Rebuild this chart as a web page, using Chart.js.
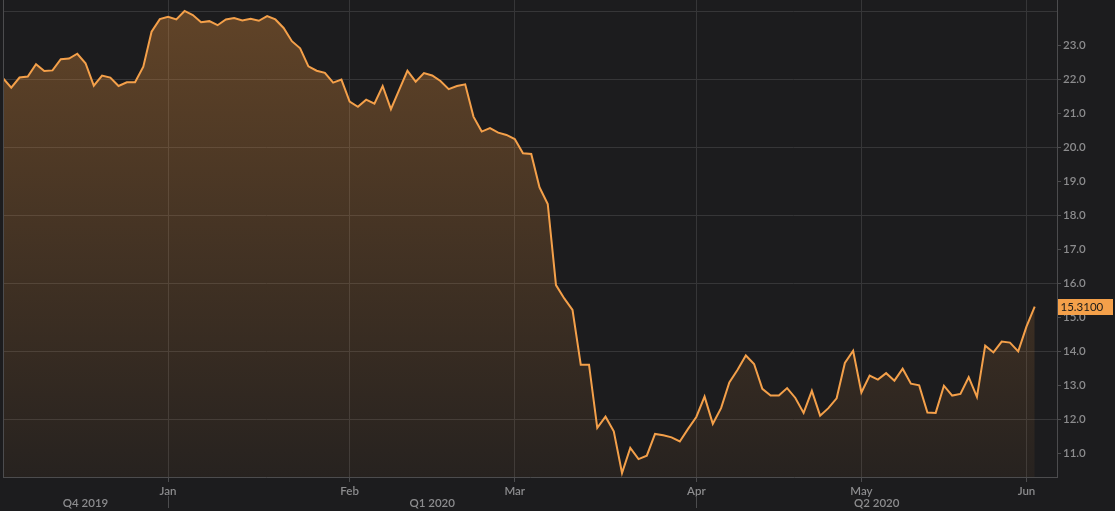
<!DOCTYPE html>
<html>
<head>
<meta charset="utf-8">
<script src="https://cdn.jsdelivr.net/npm/chart.js@4"></script>
<style>
  html, body { margin: 0; padding: 0; background: #1c1c1e; }
  #wrap { width: 1115px; height: 511px; position: relative; }
</style>
</head>
<body>
<div id="wrap"><canvas id="chart" width="1115" height="511"></canvas></div>
<script>
// --- data (one value per trading day) ---
const values = [
  22.03, 21.75, 22.05, 22.08, 22.44, 22.24, 22.26, 22.59, 22.61, 22.75,
  22.47, 21.81, 22.11, 22.05, 21.80, 21.91, 21.91, 22.37, 23.40, 23.77,
  23.84, 23.76, 24.01, 23.89, 23.68, 23.71, 23.59, 23.76, 23.80, 23.73,
  23.78, 23.72, 23.86, 23.76, 23.51, 23.12, 22.91, 22.38, 22.25, 22.19,
  21.90, 21.99, 21.34, 21.19, 21.40, 21.28, 21.80, 21.12, 21.69, 22.25,
  21.93, 22.18, 22.11, 21.95, 21.71, 21.80, 21.85, 20.90, 20.46, 20.56,
  20.43, 20.36, 20.24, 19.82, 19.80, 18.82, 18.33, 15.94, 15.55, 15.21,
  13.60, 13.60, 11.74, 12.07, 11.64, 10.41, 11.15, 10.82, 10.92, 11.56,
  11.52, 11.46, 11.34, 11.71, 12.06, 12.66, 11.86, 12.32, 13.08, 13.45,
  13.87, 13.62, 12.89, 12.69, 12.69, 12.91, 12.62, 12.18, 12.83, 12.10,
  12.32, 12.61, 13.65, 14.01, 12.78, 13.28, 13.16, 13.35, 13.13, 13.48,
  13.04, 12.99, 12.19, 12.18, 12.98, 12.69, 12.74, 13.23, 12.65, 14.16,
  13.96, 14.28, 14.25, 13.99, 14.72, 15.31
];

const monthTickIdx = [20, 42, 62, 84, 104, 124];
const monthLabels = ['Jan', 'Feb', 'Mar', 'Apr', 'May', 'Jun'];
const quarterLabels = ['Q4 2019', 'Q1 2020', 'Q2 2020'];
const quarterStartIdx = [null, 20, 84];   // null: quarter starts before the visible range
const yTickValues = [11, 12, 13, 14, 15, 16, 17, 18, 19, 20, 21, 22, 23, 24];
const lastPriceLabel = '15.3100';

// --- colours ---
const BG = '#1c1c1e';
const GRID = '#363638';
const AXIS = '#4c4c4e';
const TEXT = '#8c8c8e';
const ORANGE = '#f4a04a';
const FONT = 'Lato, "Open Sans", sans-serif';

const extrasPlugin = {
  id: 'extras',
  beforeDraw(chart) {
    const c = chart.ctx;
    c.save();
    c.fillStyle = BG;
    c.fillRect(0, 0, chart.width, chart.height);
    c.restore();
  },
  afterDraw(chart) {
    const c = chart.ctx;
    const xs = chart.scales.x, ys = chart.scales.y;
    const area = chart.chartArea;
    c.save();

    // left frame line
    c.strokeStyle = AXIS;
    c.lineWidth = 1;
    c.beginPath();
    c.moveTo(Math.round(area.left) + 0.5, area.top);
    c.lineTo(Math.round(area.left) + 0.5, area.bottom);
    c.stroke();

    // long quarter separator ticks
    quarterStartIdx.forEach(idx => {
      if (idx === null) return;
      const px = Math.round(xs.getPixelForValue(idx)) + 0.5;
      c.beginPath();
      c.moveTo(px, area.bottom + 19);
      c.lineTo(px, area.bottom + 31);
      c.stroke();
    });

    // quarter labels, centred on the visible part of each quarter
    c.fillStyle = TEXT;
    c.font = '600 11.5px ' + FONT;
    c.textAlign = 'center';
    c.textBaseline = 'middle';
    quarterLabels.forEach((lab, i) => {
      const a = quarterStartIdx[i] === null ? xs.min : quarterStartIdx[i];
      const b = i + 1 < quarterStartIdx.length ? quarterStartIdx[i + 1] : xs.max;
      c.fillText(lab, xs.getPixelForValue((a + b) / 2), area.bottom + 26);
    });

    // last price tag
    const last = values[values.length - 1];
    const py = ys.getPixelForValue(last);
    c.fillStyle = ORANGE;
    c.fillRect(area.right + 1, Math.round(py) - 8, 55, 16);
    c.fillStyle = '#1a1a1a';
    c.textAlign = 'left';
    c.font = '11.5px ' + FONT;
    c.fillText(lastPriceLabel, area.right + 3.5, py + 0.5);
    c.restore();
  }
};

const ctx = document.getElementById('chart').getContext('2d');

new Chart(ctx, {
  type: 'line',
  data: {
    datasets: [{
      data: values.map((v, i) => ({ x: i, y: v })),
      borderColor: ORANGE,
      borderWidth: 2,
      tension: 0,
      pointRadius: 0,
      fill: 'start',
      backgroundColor: (context) => {
        const area = context.chart.chartArea;
        if (!area) return 'rgba(244,160,74,0.2)';
        const g = context.chart.ctx.createLinearGradient(0, area.top, 0, area.bottom);
        g.addColorStop(0, 'rgba(240,150,60,0.33)');
        g.addColorStop(1, 'rgba(240,150,60,0.05)');
        return g;
      }
    }]
  },
  options: {
    responsive: false,
    animation: false,
    layout: { padding: { left: 3, top: 0, right: 0, bottom: 0 } },
    plugins: { legend: { display: false }, tooltip: { enabled: false } },
    scales: {
      x: {
        type: 'linear',
        min: 0,
        max: 127.7,
        afterBuildTicks: (scale) => {
          scale.ticks = monthTickIdx.map(v => ({ value: v }));
        },
        afterFit: (scale) => {
          scale.height = 34;
          scale.paddingLeft = 0;
          scale.paddingRight = 0;
        },
        ticks: {
          autoSkip: false,
          maxRotation: 0,
          padding: 2,
          color: TEXT,
          font: { family: FONT, size: 11.5, weight: '600' },
          callback: (v) => monthLabels[monthTickIdx.indexOf(v)] || ''
        },
        grid: { color: GRID, tickColor: AXIS, tickLength: 5, drawOnChartArea: true },
        border: { color: AXIS }
      },
      y: {
        position: 'right',
        min: 10.294,
        max: 24.332,
        afterBuildTicks: (scale) => {
          scale.ticks = yTickValues.map(v => ({ value: v }));
        },
        afterFit: (scale) => {
          scale.width = 58;
          scale.paddingTop = 0;
          scale.paddingBottom = 0;
        },
        ticks: {
          padding: 2,
          color: TEXT,
          font: { family: FONT, size: 11.5, weight: '600' },
          callback: (v) => v === 24 ? '' : v.toFixed(1)
        },
        grid: {
          color: (c) => c.tick && c.tick.value % 2 === 0 ? GRID : 'rgba(0,0,0,0)',
          tickColor: (c) => c.tick && c.tick.value === 24 ? 'rgba(0,0,0,0)' : AXIS,
          tickLength: 4
        },
        border: { color: AXIS }
      }
    }
  },
  plugins: [extrasPlugin]
});
</script>
</body>
</html>
